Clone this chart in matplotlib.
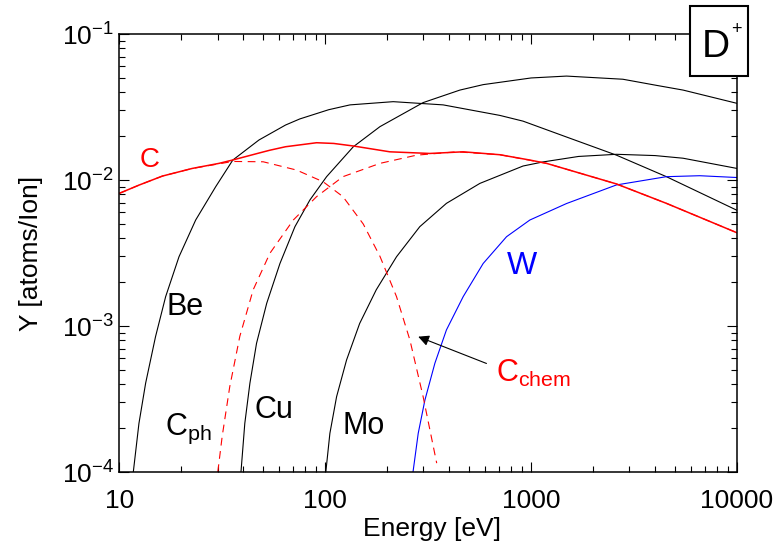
import numpy as np
import matplotlib
matplotlib.use('Agg')
import matplotlib.pyplot as plt
from matplotlib.patches import Rectangle

plt.rcParams['font.family'] = 'Liberation Sans'
plt.rcParams['mathtext.fontset'] = 'custom'
plt.rcParams['mathtext.rm'] = 'Liberation Sans'
plt.rcParams['mathtext.it'] = 'Liberation Sans'
plt.rcParams['mathtext.default'] = 'regular'

# sputtering yields for D+ ions, energy in eV, yield in atoms/ion
e_be = [11.7, 12.46, 13.43, 15.0, 16.8, 19.5, 23.5, 29.4, 35.6, 47.7, 64.2, 75.3, 104, 132, 214,
        374, 705, 914, 1486, 2596, 4540, 10000]
y_be = [1e-4, 2.15e-4, 4.06e-4, 8.45e-4, 1.59e-3, 2.98e-3, 5.32e-3, 9.0e-3, 1.37e-2, 1.88e-2,
        2.38e-2, 2.62e-2, 3.03e-2, 3.27e-2, 3.44e-2, 3.27e-2, 2.77e-2, 2.53e-2, 1.97e-2, 1.48e-2,
        1.054e-2, 6.2e-3]

e_cu = [39.0, 40.7, 43.1, 46.4, 52.0, 60.3, 71.3, 84.3, 101.6, 137, 184.5, 299, 451, 585, 1000,
        1486, 2790, 4060, 5470, 10000]
y_cu = [1e-4, 2.15e-4, 4.06e-4, 7.6e-4, 1.43e-3, 2.68e-3, 4.79e-3, 7.3e-3, 1.054e-2, 1.69e-2,
        2.32e-2, 3.39e-2, 4.13e-2, 4.5e-2, 5.0e-2, 5.15e-2, 4.9e-2, 4.45e-2, 4.13e-2, 3.35e-2]

e_mo = [100.7, 105.4, 113.6, 127, 147, 177, 222, 288, 388, 564, 914, 1143, 1700, 2600, 4000,
        5470, 10000]
y_mo = [1e-4, 1.84e-4, 3.28e-4, 5.85e-4, 1.04e-3, 1.77e-3, 2.98e-3, 4.79e-3, 6.92e-3, 9.48e-3,
        1.247e-2, 1.33e-2, 1.45e-2, 1.50e-2, 1.47e-2, 1.41e-2, 1.2e-2]

e_w = [267, 283, 305, 341, 388, 468, 585, 760, 986, 1486, 2596, 4540, 6590, 10000]
y_w = [1e-4, 1.84e-4, 3.11e-4, 5.56e-4, 9.4e-4, 1.59e-3, 2.68e-3, 4.09e-3, 5.32e-3, 6.9e-3,
       9.25e-3, 1.054e-2, 1.07e-2, 1.04e-2]

e_c = [10, 12.5, 16.2, 22.6, 30.5, 35.5, 47.7, 53.9, 64.2, 90.8, 110, 137, 206, 322, 468, 705,
       986, 1189, 2596, 4540, 10000]
y_c = [8.1e-3, 9.24e-3, 1.064e-2, 1.20e-2, 1.30e-2, 1.37e-2, 1.53e-2, 1.60e-2, 1.69e-2, 1.80e-2,
       1.78e-2, 1.71e-2, 1.56e-2, 1.52e-2, 1.56e-2, 1.49e-2, 1.37e-2, 1.30e-2, 9.4e-3, 6.92e-3,
       4.35e-3]

e_cph = [30.1, 31.6, 34.4, 38.5, 44.7, 53.9, 70, 90.8, 122, 184.5, 278, 434, 705, 1189, 2596,
         4540, 10000]
y_cph = [1e-4, 1.75e-4, 3.84e-4, 8.5e-4, 1.77e-3, 3.15e-3, 5.32e-3, 7.69e-3, 1.054e-2, 1.30e-2,
         1.48e-2, 1.56e-2, 1.49e-2, 1.30e-2, 9.4e-3, 6.92e-3, 4.35e-3]

e_cchem = [10, 12.5, 16.2, 22.6, 30.5, 35.5, 50.0, 72.6, 97.7, 122, 153, 184.5, 222, 258, 299, 348]
y_cchem = [8.1e-3, 9.24e-3, 1.064e-2, 1.2e-2, 1.29e-2, 1.34e-2, 1.333e-2, 1.17e-2, 9.73e-3,
           7.69e-3, 5.0e-3, 3.0e-3, 1.59e-3, 8.0e-4, 3.28e-4, 1.15e-4]

fig = plt.figure(figsize=(7.8, 5.52), dpi=100)
ax = fig.add_axes([0.1529, 0.1449, 0.7920, 0.7935])

ax.plot(e_be, y_be, color='black', lw=0.8)
ax.plot(e_cu, y_cu, color='black', lw=0.8)
ax.plot(e_mo, y_mo, color='black', lw=0.8)
ax.plot(e_w, y_w, color='blue', lw=0.8)
ax.plot(e_cph, y_cph, color='red', lw=0.8, linestyle=(0, (7, 5)))
ax.plot(e_cchem, y_cchem, color='red', lw=0.8, linestyle=(0, (7, 5)))
ax.plot(e_c, y_c, color='red', lw=1.1)

ax.set_xscale('log')
ax.set_yscale('log')
ax.set_xlim(10, 10000)
ax.set_ylim(1e-4, 1e-1)

ax.set_xticks([10, 100, 1000, 10000])
ax.set_xticklabels(['10', '100', '1000', '10000'])
ax.set_yticks([1e-4, 1e-3, 1e-2, 1e-1])
ax.set_yticklabels([r'$10^{-4}$', r'$10^{-3}$', r'$10^{-2}$', r'$10^{-1}$'])

ax.tick_params(which='both', direction='in', top=True, right=True, width=0.8)
ax.tick_params(which='major', length=7.5, labelsize=19)
ax.tick_params(axis='x', which='major', pad=12)
ax.tick_params(axis='y', which='major', pad=4)
ax.tick_params(which='minor', length=4)
for s in ax.spines.values():
    s.set_linewidth(1.1)

ax.set_xlabel('Energy [eV]', fontsize=19)
ax.set_ylabel('Y [atoms/Ion]', fontsize=19)
ax.xaxis.set_label_coords(0.507, -0.103)
ax.yaxis.set_label_coords(-0.123, 0.5)

# curve labels
ax.text(12.5, 1.227e-2, 'C', color='red', fontsize=20)
ax.text(17.0, 1.19e-3, 'Be', color='black', fontsize=22)
ax.text(16.7, 1.79e-4, r'C$_{ph}$', color='black', fontsize=22)
ax.text(45.6, 2.35e-4, 'Cu', color='black', fontsize=22)
ax.text(121, 1.82e-4, 'Mo', color='black', fontsize=22)
ax.text(760, 2.27e-3, 'W', color='blue', fontsize=23)
ax.text(674, 4.16e-4, r'C$_{chem}$', color='red', fontsize=22)
ax.annotate('', xy=(283, 8.45e-4), xytext=(607, 5.54e-4),
            arrowprops=dict(arrowstyle='-|>', color='black', lw=0.8,
                            mutation_scale=16, shrinkA=0, shrinkB=0))

# ion species box
box = Rectangle((0.8846, 0.8623), 0.0744, 0.1268, transform=fig.transFigure,
                facecolor='white', edgecolor='black', lw=1.5, zorder=10, clip_on=False)
fig.add_artist(box)
fig.text(0.918, 0.915, 'D', fontsize=28, ha='center', va='center', zorder=11)
fig.text(0.944, 0.947, '+', fontsize=13, ha='center', va='center', zorder=11)

fig.savefig('out.png', dpi=100)
